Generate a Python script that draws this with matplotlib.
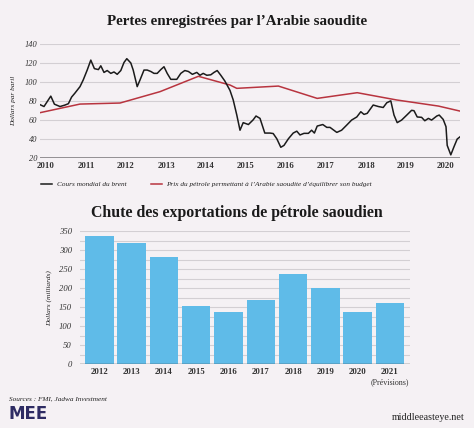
import matplotlib
matplotlib.use("Agg")
import matplotlib.pyplot as plt
from matplotlib.lines import Line2D

# ---------------- data ----------------
brent_t = [2010.00, 2010.10, 2010.27, 2010.36, 2010.50, 2010.62, 2010.71, 2010.79, 2010.87,
           2011.00, 2011.08, 2011.18, 2011.27, 2011.36, 2011.46, 2011.52, 2011.60, 2011.68,
           2011.77, 2011.85, 2011.93, 2012.02, 2012.10, 2012.17, 2012.27, 2012.33, 2012.43,
           2012.50, 2012.60, 2012.68, 2012.77, 2012.85, 2012.93, 2013.02, 2013.10, 2013.18,
           2013.27, 2013.42, 2013.52, 2013.62, 2013.71, 2013.81, 2013.92, 2014.00, 2014.08,
           2014.17, 2014.27, 2014.35, 2014.43, 2014.52, 2014.62, 2014.75, 2014.83, 2014.92,
           2015.00, 2015.08, 2015.21, 2015.33, 2015.40, 2015.50, 2015.62, 2015.75, 2015.83,
           2015.92, 2016.02, 2016.10, 2016.21, 2016.33, 2016.42, 2016.50, 2016.60, 2016.71,
           2016.79, 2016.86, 2016.93, 2017.07, 2017.17, 2017.25, 2017.42, 2017.54, 2017.67,
           2017.79, 2017.92, 2018.02, 2018.10, 2018.18, 2018.33, 2018.46, 2018.58, 2018.67,
           2018.77, 2018.85, 2018.93, 2019.04, 2019.17, 2019.29, 2019.35, 2019.43, 2019.54,
           2019.62, 2019.71, 2019.79, 2019.92, 2019.98, 2020.08, 2020.15, 2020.18, 2020.27,
           2020.35, 2020.43, 2020.50]
brent_v = [76, 74, 85, 76.5, 74, 75.5, 77, 84, 88,
           95, 102, 112.5, 123, 114, 113, 117, 110, 112,
           109, 110.5, 108, 112, 120.5, 124.5, 120, 112.5, 95,
           102, 112.5, 112.5, 111, 109, 109, 113, 116, 109,
           102.7, 102.7, 109, 112, 111, 108, 110, 107, 109,
           107, 107.5, 110, 112, 107, 101, 91, 81, 65,
           49, 57, 55, 60, 64, 61.5, 46, 46, 45.5,
           40, 31, 33, 40, 46, 48, 44, 45.7, 45.7,
           49, 46, 53.4, 55, 52, 52, 46.7, 49, 54.5,
           59.7, 63, 68.5, 65.7, 66.8, 75.6, 74, 73, 78,
           80, 65, 57, 59.7, 65, 70, 69.6, 63, 62.6,
           59, 61.5, 59.7, 64, 65, 60.4, 52.7, 33, 23,
           31.6, 39.7, 42]

budget_t = [2010.00, 2011.00, 2012.00, 2013.00, 2013.96, 2014.75, 2014.92, 2015.96,
            2016.93, 2017.93, 2018.92, 2019.96, 2020.50]
budget_v = [67.5, 76.6, 77.7, 89.7, 105.9, 96.7, 93.2, 95.6,
            82.6, 88.6, 80.9, 74.5, 69.2]

line_years = [2010, 2011, 2012, 2013, 2014, 2015, 2016, 2017, 2018, 2019, 2020]
line_yticks = [20, 40, 60, 80, 100, 120, 140]

bar_years = ["2012", "2013", "2014", "2015", "2016", "2017", "2018", "2019", "2020", "2021"]
exports = [338, 318, 282, 152, 137, 169, 236, 200, 137, 161]
bar_yticks = [0, 50, 100, 150, 200, 250, 300, 350]

title1 = "Pertes enregistrées par l\u2019Arabie saoudite"
title2 = "Chute des exportations de pétrole saoudien"
legend1 = "Cours mondial du brent"
legend2 = "Prix du pétrole permettant à l\u2019Arabie saoudite d\u2019équilibrer son budget"

# ---------------- style ----------------
BG = "#f5f1f4"
GRID = "#d3cfd3"
BLACK = "#1b1b1b"
RED = "#b8343f"
BLUE = "#5fbbe8"
SERIF = ["Liberation Serif", "DejaVu Serif"]
plt.rcParams["font.family"] = SERIF

W, H = 474, 428
fig = plt.figure(figsize=(W / 100, H / 100), dpi=100, facecolor=BG)

def fx(x):
    return x / W

def fy(y):
    return 1 - y / H

# ---------------- top line chart ----------------
ax1 = fig.add_axes([fx(40), fy(157.7), fx(420), (157.7 - 44) / H])
ax1.set_facecolor(BG)
ax1.set_xlim(2010, 2020.5)
ax1.set_ylim(20, 140)
for v in line_yticks[1:]:
    ax1.axhline(v, color=GRID, lw=0.8, zorder=0)
ax1.axhline(20, color="#8a878a", lw=2.0, zorder=1)
ax1.plot(budget_t, budget_v, color=RED, lw=1.1, zorder=3)
ax1.plot(brent_t, brent_v, color=BLACK, lw=1.1, zorder=4)
for s in ax1.spines.values():
    s.set_visible(False)
ax1.set_yticks(line_yticks)
ax1.set_yticklabels([str(v) for v in line_yticks], fontsize=6, style="italic", color="#333333")
ax1.set_xticks([y + 0.15 for y in line_years])
ax1.set_xticklabels([str(y) for y in line_years], fontsize=6.3, fontweight="bold", color="#333333")
ax1.tick_params(length=0, pad=3)
ax1.tick_params(axis="y", pad=2)
ax1.set_ylabel("Dollars par baril", fontsize=5.2, style="italic", labelpad=6, color="#222222")

# legend (manual)
ly = fy(184)
fig.add_artist(Line2D([fx(41), fx(52)], [ly, ly], color=BLACK, lw=1.1, transform=fig.transFigure))
fig.text(fx(57), ly, legend1, fontsize=5.2, style="italic", va="center", ha="left", color="#222222")
fig.add_artist(Line2D([fx(151), fx(162)], [ly, ly], color=RED, lw=1.1, transform=fig.transFigure))
fig.text(fx(166), ly, legend2, fontsize=5.2, style="italic", va="center", ha="left", color="#222222")

# ---------------- bottom bar chart ----------------
ax2 = fig.add_axes([fx(80), fy(364.3), fx(330), (364.3 - 231) / H])
ax2.set_facecolor(BG)
ax2.set_ylim(0, 350)
ax2.set_xlim(-0.6, 9.62)
for v in range(25, 351, 25):
    ax2.axhline(v, color=GRID, lw=0.8, zorder=0)
xs = list(range(len(bar_years)))
ax2.bar(xs, exports, width=0.88, color=BLUE, zorder=2)
ax2.axhline(0, color="#444444", lw=1.0, zorder=3)
for s in ax2.spines.values():
    s.set_visible(False)
ax2.set_yticks(bar_yticks)
ax2.set_yticklabels([str(v) for v in bar_yticks], fontsize=6.2, style="italic", color="#333333")
ax2.set_xticks(xs)
ax2.set_xticklabels(bar_years, fontsize=6.3, fontweight="bold", color="#333333")
ax2.tick_params(length=0, pad=3)
ax2.tick_params(axis="y", pad=6)
ax2.set_ylabel("Dollars (milliards)", fontsize=5.3, style="italic", labelpad=5, color="#222222")
ax2.text(9, -46, "(Prévisions)", fontsize=5.8, ha="center", va="center", color="#333333")

# ---------------- titles and footer ----------------
fig.text(0.5, fy(22), title1, fontsize=10.8, fontweight="bold", ha="center", va="center", color="#1a1a1a")
fig.text(0.5, fy(213), title2, fontsize=11.4, fontweight="bold", ha="center", va="center", color="#1a1a1a")
fig.text(fx(9), fy(399), "Sources : FMI, Jadwa Investment", fontsize=5.2, style="italic",
         ha="left", va="center", color="#222222")
fig.text(fx(8), fy(414), "MEE", fontsize=12, fontweight="bold", family=["DejaVu Sans"],
         ha="left", va="center", color="#2e2b63")
fig.text(fx(465), fy(417), "middleeasteye.net", fontsize=7.2, ha="right", va="center", color="#222222")

fig.savefig("out.png", dpi=100, facecolor=BG)
